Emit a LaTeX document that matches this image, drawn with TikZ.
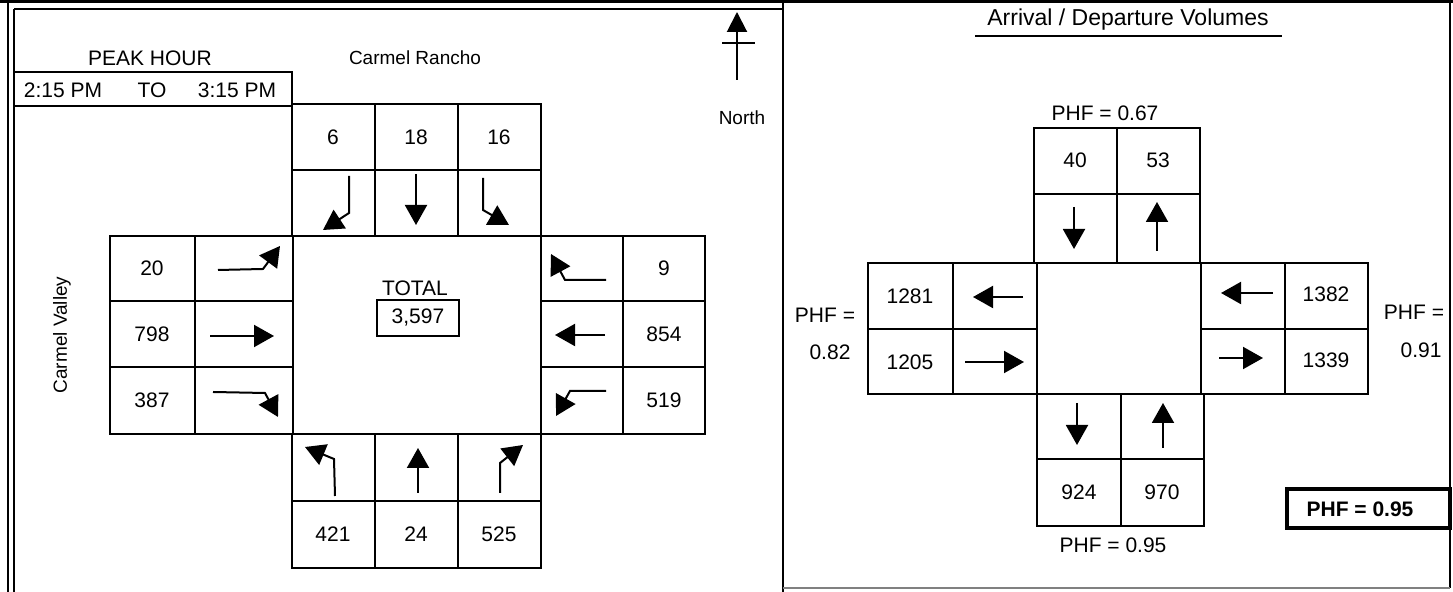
\documentclass[tikz,border=0pt]{standalone}
\usepackage{fontspec}
\setmainfont{Liberation Sans}
\usetikzlibrary{arrows.meta}

\tikzset{
  grid/.style={line width=1pt},
  mv/.style={line width=1pt,-{Triangle[length=10pt,width=11pt]}},
  lbl/.style={font=\fontsize{10.5}{12}\selectfont,inner sep=0pt},
  sml/.style={font=\fontsize{9.5}{11}\selectfont,inner sep=0pt},
}

\begin{document}
\begin{tikzpicture}[x=0.5pt,y=-0.5pt]
  \useasboundingbox (0,0) rectangle (1453,592);
  % frame
  \draw[line width=1.5pt] (0,2) -- (1453,2);
  \draw[line width=1pt] (8,2) -- (8,592) (14,9) -- (14,592) (14,9) -- (783,9);
  \draw[line width=1pt] (783,2) -- (783,592) (1450,2) -- (1450,588);
  \draw[gray,line width=0.6pt] (783,588) -- (1450,588);

  % ---- left panel: turning movements ----
  \node[lbl] (peak) at (150,58) {PEAK HOUR};
  \node[sml] (rancho) at (415,58) {Carmel Rancho};
  \draw[grid] (14,72) rectangle (292,106);
  \node[lbl] (from) at (63,90) {2:15 PM};
  \node[lbl] (to) at (152,90) {TO};
  \node[lbl] (till) at (237,90) {3:15 PM};
  \node[sml,rotate=90] (valley) at (62,335) {Carmel Valley};

  % cells
  \foreach \xa/\xb in {292/375,375/458,458/541}
    \foreach \ya/\yb in {104/170,170/236,434/501,501/568}
      \draw[grid] (\xa,\ya) rectangle (\xb,\yb);
  \foreach \ya/\yb in {236/301,301/367,367/434} {
    \draw[grid] (110,\ya) rectangle (195,\yb) (195,\ya) rectangle (293,\yb);
    \draw[grid] (541,\ya) rectangle (623,\yb) (623,\ya) rectangle (705,\yb);
  }
  \draw[grid] (293,236) rectangle (541,434);

  % volumes
  \foreach \x/\v/\n in {333/6/sbr,416/18/sbt,499/16/sbl}
    \node[lbl] (\n) at (\x,137) {\v};
  \foreach \x/\v/\n in {333/421/nbl,416/24/nbt,499/525/nbr}
    \node[lbl] (\n) at (\x,534) {\v};
  \foreach \y/\v/\n in {268/20/ebl,334/798/ebt,400/387/ebr}
    \node[lbl] (\n) at (152,\y) {\v};
  \foreach \y/\v/\n in {268/9/wbr,334/854/wbt,400/519/wbl}
    \node[lbl] (\n) at (664,\y) {\v};

  \node[lbl] (total) at (415,288) {TOTAL};
  \node[lbl,draw,line width=0.9pt,minimum width=41pt,minimum height=18pt] (sum) at (418,318) {3,597};

  % movement arrows
  \draw[mv] (349,176) -- (349,213) -- (323,230);
  \draw[mv] (416,174) -- (416,225);
  \draw[mv] (483,178) -- (483,210) -- (509,225);
  \draw[mv] (218,270) -- (263,269) -- (280,246);
  \draw[mv] (210,336) -- (274,336);
  \draw[mv] (213,392) -- (265,393) -- (278,417);
  \draw[mv] (606,280) -- (565,280) -- (551,254);
  \draw[mv] (605,335) -- (555,335);
  \draw[mv] (606,391) -- (570,391) -- (556,416);
  \draw[mv] (335,496) -- (334,459) -- (305,447);
  \draw[mv] (418,493) -- (418,448);
  \draw[mv] (500,493) -- (500,463) -- (523,445);

  % north arrow
  \draw[line width=1pt,-{Triangle[length=10pt,width=10pt]}] (737,80) -- (737,12);
  \draw[line width=1pt] (722,43) -- (755,43);
  \node[sml] (north) at (742,118) {North};

  % ---- right panel: arrival / departure ----
  \node[lbl,font=\fontsize{11.5}{13}\selectfont] (title) at (1128,20) {Arrival / Departure Volumes};
  \draw[line width=1pt] (975,36) -- (1282,36);

  \foreach \xa/\xb in {1034/1117,1117/1200}
    \foreach \ya/\yb in {128/194,194/263}
      \draw[grid] (\xa,\ya) rectangle (\xb,\yb);
  \foreach \xa/\xb in {1037/1121,1121/1204}
    \foreach \ya/\yb in {394/459,459/526}
      \draw[grid] (\xa,\ya) rectangle (\xb,\yb);
  \foreach \ya/\yb in {263/329,329/394} {
    \draw[grid] (868,\ya) rectangle (953,\yb) (953,\ya) rectangle (1037,\yb);
    \draw[grid] (1201,\ya) rectangle (1285,\yb) (1285,\ya) rectangle (1368,\yb);
  }
  \draw[grid] (1037,263) rectangle (1201,394);

  \node[lbl] (nin) at (1075,160) {40};
  \node[lbl] (nout) at (1158,160) {53};
  \node[lbl] (win) at (910,296) {1281};
  \node[lbl] (wout) at (910,362) {1205};
  \node[lbl] (ein) at (1326,294) {1382};
  \node[lbl] (eout) at (1326,360) {1339};
  \node[lbl] (sin) at (1079,492) {924};
  \node[lbl] (sout) at (1162,492) {970};

  \draw[mv] (1074,207) -- (1074,249);
  \draw[mv] (1157,251) -- (1157,202);
  \draw[mv] (1023,297) -- (973,297);
  \draw[mv] (965,362) -- (1024,362);
  \draw[mv] (1273,293) -- (1221,293);
  \draw[mv] (1219,358) -- (1263,358);
  \draw[mv] (1077,403) -- (1077,445);
  \draw[mv] (1163,448) -- (1163,403);

  \node[lbl] (phfn) at (1105,113) {PHF = 0.67};
  \node[lbl] (phfs) at (1113,545) {PHF = 0.95};
  \node[lbl] (phfw) at (825,315) {PHF =};
  \node[lbl] (phfwv) at (830,352) {0.82};
  \node[lbl] (phfe) at (1414,312) {PHF =};
  \node[lbl] (phfev) at (1421,350) {0.91};

  \draw[line width=1.6pt] (1287,489) rectangle (1450,528);
  \node[lbl,font=\fontsize{10.5}{12}\selectfont\bfseries] (phf) at (1360,509) {PHF = 0.95};
\end{tikzpicture}
\end{document}
